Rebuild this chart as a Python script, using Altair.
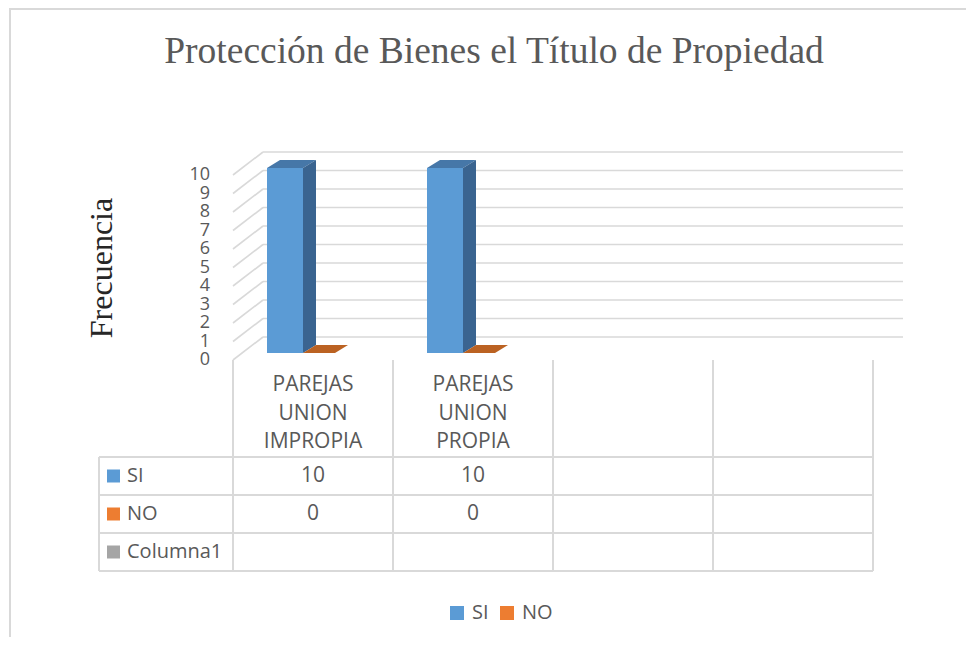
import altair as alt
import pandas as pd

# ---------------- data ----------------
TITLE = "Protección de Bienes el Título de Propiedad"
Y_TITLE = "Frecuencia"
categories = ["PAREJAS\nUNION\nIMPROPIA", "PAREJAS\nUNION\nPROPIA", "", ""]
series_names = ["SI", "NO", "Columna1"]
si_values = [10, 10]
no_values = [0, 0]
columna1_values = []
y_ticks = list(range(0, 11))

# ---------------- styles ----------------
front_colors = ["#5B9BD5", "#ED7D31", "#A5A5A5"]
top_colors = ["#4677A8", "#BB6222"]
side_colors = ["#3A6490", "#A04F17"]
GRID = "#D9D9D9"
TEXT = "#595959"

# ---------------- layout (page pixels) ----------------
W, H = 958, 629
PAGE = 8
X0, CAT_W = 233, 160
Y0, UNIT = 360, 18.5
WALL_DX, WALL_DY = 30, -23
BAR_DX, BAR_DY = 13, 8
BAR_LIFT = 7
BAR_SLOTS = [(0.2125, 0.4375), (0.4375, 0.6375)]
N_CAT = len(categories)


def u(px):
    return (px - X0) / CAT_W


def v(py):
    return (Y0 - py) / UNIT


XS = alt.Scale(domain=[0, N_CAT], range=[X0 - PAGE, X0 - PAGE + N_CAT * CAT_W], nice=False, zero=False)
YS = alt.Scale(domain=[0, 10], range=[Y0 - PAGE, Y0 - PAGE - 10 * UNIT], nice=False, zero=False)

# ---------------- walls ----------------
grid_df = pd.DataFrame({"v": y_ticks, "x0": 0.0, "x1": float(N_CAT), "xl": u(210),
                        "lab": [str(t) for t in y_ticks]})
back_grid = alt.Chart(grid_df).mark_rule(
    color=GRID, strokeWidth=1.6, xOffset=WALL_DX, x2Offset=WALL_DX, yOffset=WALL_DY, y2Offset=WALL_DY
).encode(
    x=alt.X("x0:Q", scale=XS, axis=None), x2="x1:Q",
    y=alt.Y("v:Q", scale=YS, axis=None), y2="v:Q",
)
wall_diag = alt.Chart(grid_df).mark_rule(
    color=GRID, strokeWidth=1.6, x2Offset=WALL_DX, y2Offset=WALL_DY
).encode(
    x=alt.X("x0:Q", scale=XS, axis=None), x2="x0:Q",
    y=alt.Y("v:Q", scale=YS, axis=None), y2="v:Q",
)
tick_labels = alt.Chart(grid_df).mark_text(
    font="Open Sans", fontSize=18, color=TEXT, align="right", baseline="middle"
).encode(
    x=alt.X("xl:Q", scale=XS, axis=None), y=alt.Y("v:Q", scale=YS, axis=None), text="lab:N"
)

# ---------------- data table grid ----------------
row_lines_px = [457, 495, 533, 571]
seg = []
for i in range(N_CAT + 1):
    seg.append((float(i), float(i), v(360), v(row_lines_px[-1])))
seg.append((u(99), u(99), v(row_lines_px[0]), v(row_lines_px[-1])))
for py in row_lines_px:
    seg.append((u(99), float(N_CAT), v(py), v(py)))
seg_df = pd.DataFrame(seg, columns=["x0", "x1", "y0", "y1"])
table_grid = alt.Chart(seg_df).mark_rule(color=GRID, strokeWidth=2).encode(
    x=alt.X("x0:Q", scale=XS, axis=None), x2="x1:Q",
    y=alt.Y("y0:Q", scale=YS, axis=None), y2="y1:Q",
)

# ---------------- columns ----------------
dxu = BAR_DX / CAT_W
dyv = BAR_DY / UNIT
bars, faces = [], []
for s, vals in enumerate([si_values, no_values]):
    a_off, b_off = BAR_SLOTS[s]
    for i, val in enumerate(vals):
        a, b = i + a_off, i + b_off
        bars.append({"series": series_names[s], "x0": a, "x1": b, "val": val, "base": 0})
        fid = f"top-{s}-{i}"
        for xx, top, bot in [(a, val, val), (a + dxu, val + dyv, val), (b, val + dyv, val), (b + dxu, val + dyv, val + dyv)]:
            faces.append({"id": fid, "x": xx, "top": top, "bot": bot, "fill": top_colors[s]})
        fid = f"side-{s}-{i}"
        for xx, top, bot in [(b, val, 0), (b + dxu, val + dyv, dyv)]:
            faces.append({"id": fid, "x": xx, "top": top, "bot": bot, "fill": side_colors[s]})
bars_df = pd.DataFrame(bars)
faces_df = pd.DataFrame(faces)

legend = alt.Legend(
    orient="none", legendX=439, legendY=595, direction="horizontal", title=None,
    symbolType="square", symbolSize=196, symbolStrokeWidth=0, labelFont="Open Sans",
    labelFontSize=20, labelColor=TEXT, labelOffset=5, columnPadding=8, padding=0,
)
front = alt.Chart(bars_df).mark_bar(yOffset=-BAR_LIFT, y2Offset=-BAR_LIFT).encode(
    x=alt.X("x0:Q", scale=XS, axis=None), x2="x1:Q",
    y=alt.Y("val:Q", scale=YS, axis=None), y2="base:Q",
    color=alt.Color("series:N", scale=alt.Scale(domain=series_names[:2], range=front_colors[:2]), legend=legend),
)
faces_layer = alt.Chart(faces_df).mark_area(
    orient="vertical", yOffset=-BAR_LIFT, y2Offset=-BAR_LIFT
).encode(
    x=alt.X("x:Q", scale=XS, axis=None),
    y=alt.Y("top:Q", scale=YS, axis=None), y2="bot:Q",
    detail="id:N",
    fill=alt.Fill("fill:N", scale=None),
)

# ---------------- data table text ----------------
head_df = pd.DataFrame({"x": [i + 0.5 for i in range(N_CAT)], "label": categories, "y": v(385)})
head_text = alt.Chart(head_df).mark_text(
    font="Open Sans", fontSize=21, color=TEXT, lineBreak="\n", lineHeight=28.5, baseline="middle", align="center"
).encode(
    x=alt.X("x:Q", scale=XS, axis=None), y=alt.Y("y:Q", scale=YS, axis=None), text="label:N"
)

row_centers_px = [476, 514, 552]
rows_df = pd.DataFrame({
    "name": series_names, "color": front_colors,
    "y": [v(p) for p in row_centers_px],
    "xk": u(113.5), "xt": u(127),
})
row_keys = alt.Chart(rows_df).mark_square(size=169, opacity=1, filled=True).encode(
    x=alt.X("xk:Q", scale=XS, axis=None), y=alt.Y("y:Q", scale=YS, axis=None),
    fill=alt.Fill("color:N", scale=None),
)
row_labels = alt.Chart(rows_df).mark_text(
    font="Open Sans", fontSize=20, color=TEXT, align="left", baseline="middle"
).encode(
    x=alt.X("xt:Q", scale=XS, axis=None), y=alt.Y("y:Q", scale=YS, axis=None), text="name:N"
)

cells = []
for r, vals in enumerate([si_values, no_values, columna1_values]):
    for i, val in enumerate(vals):
        cells.append({"x": i + 0.5, "y": v(row_centers_px[r]), "t": str(val)})
cells_df = pd.DataFrame(cells)
cell_text = alt.Chart(cells_df).mark_text(
    font="Open Sans", fontSize=21, color=TEXT, align="center", baseline="middle"
).encode(
    x=alt.X("x:Q", scale=XS, axis=None), y=alt.Y("y:Q", scale=YS, axis=None), text="t:N"
)

# ---------------- titles & frame ----------------
title = alt.Chart(pd.DataFrame({"t": [TITLE]})).mark_text(
    font="Liberation Serif", fontSize=37.5, color=TEXT, align="center", baseline="alphabetic"
).encode(x=alt.value(486), y=alt.value(55), text="t:N")

ytitle = alt.Chart(pd.DataFrame({"t": [Y_TITLE]})).mark_text(
    font="Liberation Serif", fontSize=32, color="#262626", align="center", baseline="alphabetic", angle=270
).encode(x=alt.value(112 - PAGE), y=alt.value(268 - PAGE), text="t:N")

frame_df = pd.DataFrame({"k": [0]})
frame_left = alt.Chart(frame_df).mark_rule(color=GRID, strokeWidth=2).encode(
    x=alt.value(2), y=alt.value(0), y2=alt.value(H)
)
frame_top = alt.Chart(frame_df).mark_rule(color=GRID, strokeWidth=2).encode(
    x=alt.value(2), x2=alt.value(W), y=alt.value(1)
)

chart = alt.layer(
    frame_left, frame_top, title, ytitle,
    back_grid, wall_diag, tick_labels, table_grid,
    faces_layer, front,
    head_text, row_keys, row_labels, cell_text,
).properties(
    width=W, height=H, autosize=alt.AutoSizeParams(type="none"), padding=0,
    background="white",
).configure_view(stroke=None)

chart.save("out.html", embed_options={"renderer": "svg", "actions": False})
